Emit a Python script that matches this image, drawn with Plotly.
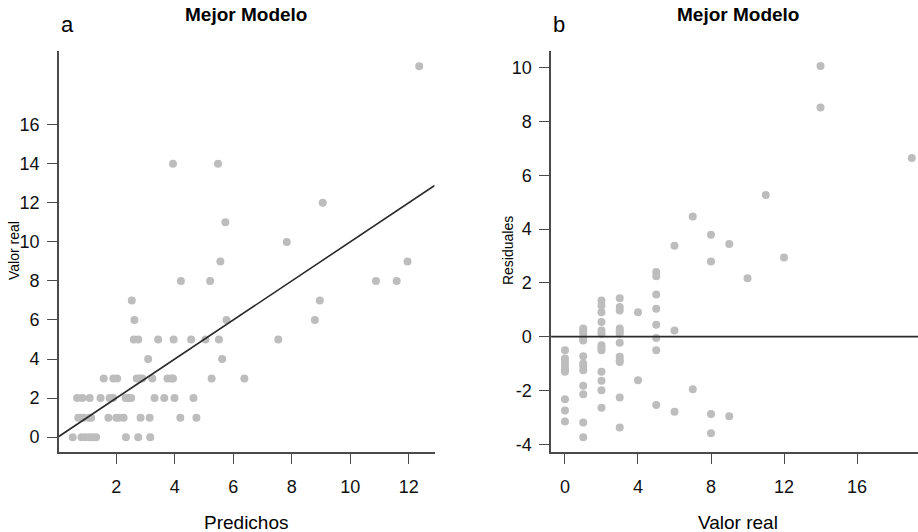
import plotly.graph_objects as go

# ---- data ----
valor_real = (
    [0] * 9 + [1] * 13 + [2] * 13 + [3] * 12 + [4] * 2 + [5] * 8 + [6] * 3
    + [7] * 2 + [8] * 4 + [9] * 2 + [10] + [11] + [12] + [14] * 2 + [19]
)
predichos = [
    0.51, 0.81, 0.94, 1.09, 1.21, 1.31, 2.33, 2.75, 3.16,
    0.70, 0.80, 0.89, 1.07, 1.14, 1.73, 2.00, 2.09, 2.25, 2.83, 3.14, 4.19, 4.74,
    0.66, 0.84, 1.09, 1.46, 1.77, 1.89, 2.32, 2.41, 2.51, 3.31, 3.64, 3.99, 4.64,
    1.57, 1.90, 2.03, 2.70, 2.80, 2.89, 3.23, 3.75, 3.88, 3.94, 5.26, 6.38,
    3.09, 5.62,
    2.60, 2.75, 3.43, 3.96, 4.56, 5.05, 5.51, 7.54,
    2.62, 5.77, 8.79,
    2.53, 8.96,
    4.21, 5.21, 10.88, 11.59,
    5.56, 11.96,
    7.83,
    5.73,
    9.06,
    3.94, 5.48,
    12.36,
]
residuales = [
    -0.51, -0.81, -0.94, -1.09, -1.21, -1.31, -2.33, -2.75, -3.16,
    0.30, 0.20, 0.11, -0.07, -0.14, -0.73, -1.00, -1.09, -1.25, -1.83, -2.14, -3.19, -3.74,
    1.34, 1.16, 0.91, 0.54, 0.23, 0.11, -0.32, -0.41, -0.51, -1.31, -1.64, -1.99, -2.64,
    1.43, 1.10, 0.97, 0.30, 0.20, 0.11, -0.23, -0.75, -0.88, -0.94, -2.26, -3.38,
    0.91, -1.62,
    2.40, 2.25, 1.57, 1.04, 0.44, -0.05, -0.51, -2.54,
    3.38, 0.23, -2.79,
    4.47, -1.96,
    3.79, 2.79, -2.88, -3.59,
    3.44, -2.96,
    2.17,
    5.27,
    2.94,
    10.06, 8.52,
    6.64,
]
ticks_a_x = [2, 4, 6, 8, 10, 12]
ticks_a_y = [0, 2, 4, 6, 8, 10, 12, 14, 16]
ticks_b_x = [0, 4, 8, 12, 16]
ticks_b_y = [-4, -2, 0, 2, 4, 6, 8, 10]
titulo = "Mejor Modelo"

# ---- styling ----
FONT = "Liberation Sans, Arial, Helvetica, sans-serif"
PT_COLOR = "#bdbdbd"
AX_COLOR = "#4a4a4a"
W, H = 918, 532

xa_range = [0.034, 12.886]
ya_range = [-0.76, 19.76]
xb_range = [-0.76, 19.34]
yb_range = [-4.29, 10.61]

ydom = [(H - 453.7) / H, (H - 51.5) / H]
xa_dom = [58.8 / W, 434.6 / W]
xb_dom = [551.1 / W, 1.0]

fig = go.Figure()
fig.add_trace(go.Scatter(
    x=predichos, y=valor_real, mode="markers",
    marker=dict(size=8, color=PT_COLOR, line=dict(width=0)),
    xaxis="x", yaxis="y", showlegend=False, hoverinfo="skip",
))
fig.add_trace(go.Scatter(
    x=valor_real, y=residuales, mode="markers",
    marker=dict(size=8, color=PT_COLOR, line=dict(width=0)),
    xaxis="x2", yaxis="y2", showlegend=False, hoverinfo="skip",
    cliponaxis=False,
))

# identity line (panel a) and zero line (panel b)
fig.add_shape(type="line", xref="x", yref="y",
              x0=xa_range[0], y0=xa_range[0], x1=xa_range[1], y1=xa_range[1],
              line=dict(color="#2a2a2a", width=1.6))
fig.add_shape(type="line", xref="x2 domain", yref="y2",
              x0=0, y0=0, x1=1, y1=0,
              line=dict(color="#2a2a2a", width=1.6))

axis_common = dict(
    showgrid=False, zeroline=False, showline=True, linecolor=AX_COLOR, linewidth=1.5,
    ticks="outside", ticklen=10, tickwidth=1.3, tickcolor=AX_COLOR,
    tickfont=dict(family=FONT, size=18, color="#111111"),
    mirror=False,
)

fig.update_layout(
    width=W, height=H,
    margin=dict(l=0, r=0, t=0, b=0),
    paper_bgcolor="white", plot_bgcolor="white",
    xaxis=dict(domain=xa_dom, range=xa_range, tickvals=ticks_a_x,
               ticktext=[str(v) for v in ticks_a_x], anchor="y",
               ticklabelstandoff=8, **axis_common),
    yaxis=dict(domain=ydom, range=ya_range, tickvals=ticks_a_y,
               ticktext=[str(v) for v in ticks_a_y], anchor="x",
               ticklabelstandoff=4, **axis_common),
    xaxis2=dict(domain=xb_dom, range=xb_range, tickvals=ticks_b_x,
                ticktext=[str(v) for v in ticks_b_x], anchor="y2",
                ticklabelstandoff=8, **axis_common),
    yaxis2=dict(domain=ydom, range=yb_range, tickvals=ticks_b_y,
                ticktext=[str(v) for v in ticks_b_y], anchor="x2",
                ticklabelstandoff=4, **axis_common),
)

def px_x(p):
    return p / W

def px_y(p):
    return (H - p) / H

ann = []
# panel titles
for cx in (246, 737.5):
    ann.append(dict(text="<b>" + titulo + "</b>", x=px_x(cx), y=px_y(15),
                    xref="paper", yref="paper", showarrow=False,
                    xanchor="center", yanchor="middle",
                    font=dict(family=FONT, size=19, color="#000000")))
# panel letters
for lx, letter in ((59, "a"), (551, "b")):
    ann.append(dict(text=letter, x=px_x(lx), y=px_y(25),
                    xref="paper", yref="paper", showarrow=False,
                    xanchor="left", yanchor="middle",
                    font=dict(family=FONT, size=22, color="#000000")))
# x axis titles
for cx, t in ((246, "Predichos"), (737.5, "Valor real")):
    ann.append(dict(text=t, x=px_x(cx), y=px_y(524),
                    xref="paper", yref="paper", showarrow=False,
                    xanchor="center", yanchor="middle",
                    font=dict(family=FONT, size=19, color="#000000")))
# y axis titles
for cx, t in ((14, "Valor real"), (508, "Residuales")):
    ann.append(dict(text=t, x=px_x(cx), y=px_y(252), textangle=-90,
                    xref="paper", yref="paper", showarrow=False,
                    xanchor="center", yanchor="middle",
                    font=dict(family=FONT, size=14, color="#000000")))
fig.update_layout(annotations=ann)

fig.write_html(
    "out.html",
    config={"displayModeBar": False},
    post_script="document.body.style.margin='0';document.body.style.overflow='hidden';",
)
